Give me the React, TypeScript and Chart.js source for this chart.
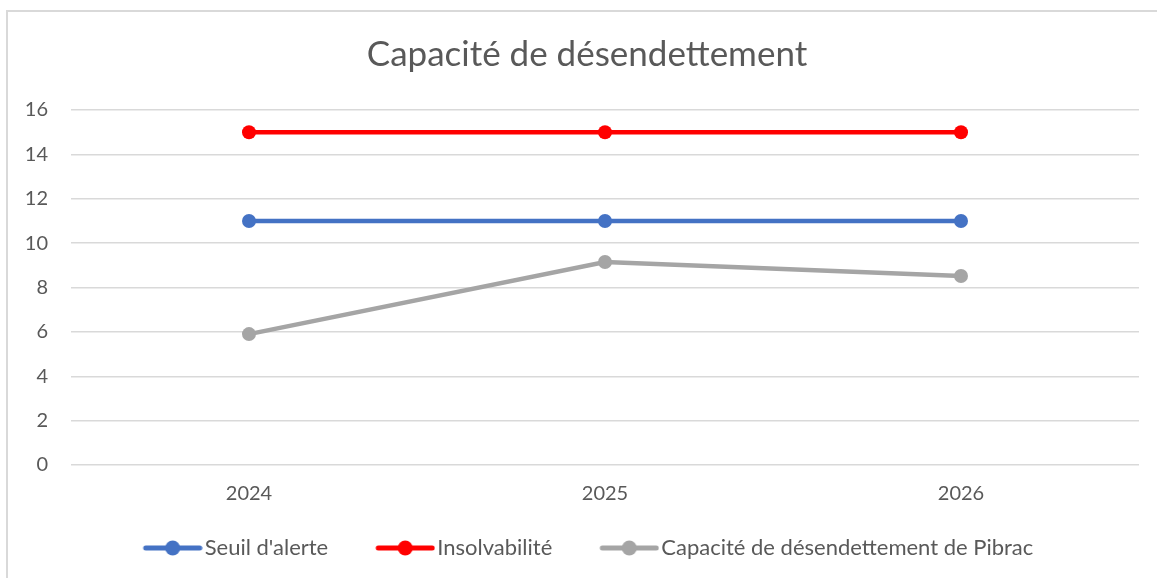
import React, { useEffect, useRef } from "react";
import { Chart, registerables } from "chart.js";

Chart.register(...registerables);

const categories = ["2024", "2025", "2026"];
const seuilAlerte = [11, 11, 11];
const insolvabilite = [15, 15, 15];
const capacitePibrac = [5.9, 9.15, 8.52];
const seriesNames = ["Seuil d'alerte", "Insolvabilité", "Capacité de désendettement de Pibrac"];
const seriesColors = ["#4472C4", "#FF0000", "#A5A5A5"];
const titleText = "Capacité de désendettement";
const yTicks = [0, 2, 4, 6, 8, 10, 12, 14, 16];

const FONT = "Lato, 'Open Sans', sans-serif";
const TEXT = "#595959";
const LEG_FS = 22;
const LEG_PAD = 10;
const LINE_LEN = 60;
const GAP = 2;
const BOX_W = 88;
const IMG_W = BOX_W + LEG_FS - 2 * GAP;

function legendImage(color: string) {
  const c = document.createElement("canvas");
  c.width = IMG_W;
  c.height = 16;
  const ctx = c.getContext("2d")!;
  const x0 = IMG_W - LINE_LEN;
  ctx.strokeStyle = color;
  ctx.lineWidth = 5;
  ctx.lineCap = "round";
  ctx.beginPath();
  ctx.moveTo(x0 + 3, 8);
  ctx.lineTo(IMG_W - 3, 8);
  ctx.stroke();
  ctx.fillStyle = color;
  ctx.beginPath();
  ctx.arc(x0 + LINE_LEN / 2, 8, 7.5, 0, Math.PI * 2);
  ctx.fill();
  return c;
}

export default function App() {
  const ref = useRef<HTMLCanvasElement>(null);
  useEffect(() => {
    const images = seriesColors.map(legendImage);
    const values = [seuilAlerte, insolvabilite, capacitePibrac];
    const framePlugin = {
      id: "frame",
      afterLayout(chart: any) {
        if (chart.titleBlock) chart.titleBlock.left += 35;
      },
      beforeDraw(chart: any) {
        const ctx = chart.ctx;
        ctx.save();
        ctx.fillStyle = "#ffffff";
        ctx.fillRect(0, 0, chart.width, chart.height);
        ctx.strokeStyle = "#d9d9d9";
        ctx.lineWidth = 2;
        ctx.strokeRect(7, 11, 1300, 700);
        ctx.restore();
      },
    };
    const chart = new Chart(ref.current!, {
      type: "line",
      data: {
        labels: categories,
        datasets: values.map((v, i) => ({
          label: seriesNames[i],
          data: v,
          borderColor: seriesColors[i],
          backgroundColor: seriesColors[i],
          borderWidth: 4.5,
          pointRadius: 7,
          pointHoverRadius: 7,
          pointBorderWidth: 0,
          pointBackgroundColor: seriesColors[i],
          tension: 0,
          fill: false,
        })),
      },
      options: {
        responsive: false,
        animation: false,
        layout: { padding: { left: 0, right: 18, top: 0, bottom: 9 } },
        plugins: {
          title: {
            display: true,
            text: titleText,
            color: TEXT,
            font: { family: FONT, size: 35, weight: "normal" },
            padding: { top: 34, bottom: 34 },
          },
          legend: {
            position: "bottom",
            labels: {
              usePointStyle: true,
              pointStyleWidth: BOX_W,
              padding: LEG_PAD,
              color: TEXT,
              font: { family: FONT, size: LEG_FS },
              generateLabels: (ch: any) =>
                ch.data.datasets.map((d: any, i: number) => ({
                  text: d.label,
                  pointStyle: images[i],
                  fillStyle: seriesColors[i],
                  strokeStyle: seriesColors[i],
                  lineWidth: 0,
                  hidden: false,
                  datasetIndex: i,
                  fontColor: TEXT,
                })),
            },
          },
          tooltip: { enabled: false },
        },
        scales: {
          x: {
            offset: true,
            grid: { display: false, drawTicks: false },
            border: { display: false },
            ticks: { color: TEXT, font: { family: FONT, size: 20 }, padding: 17 },
            afterFit: (s: any) => {
              s.height = 62;
            },
          },
          y: {
            min: 0,
            max: 16,
            afterBuildTicks: (s: any) => {
              s.ticks = yTicks.map((v) => ({ value: v }));
            },
            grid: { color: "#d9d9d9", lineWidth: 1.5, drawTicks: false },
            border: { display: false },
            ticks: { color: TEXT, font: { family: FONT, size: 20 }, padding: 23 },
            afterFit: (s: any) => {
              s.width = 71;
            },
          },
        },
      },
      plugins: [framePlugin],
    });
    return () => chart.destroy();
  }, []);
  return (
    <div style={{ position: "fixed", left: 0, top: 0, width: 1157, height: 578 }}>
      <canvas ref={ref} width={1157} height={578} style={{ display: "block" }} />
    </div>
  );
}
